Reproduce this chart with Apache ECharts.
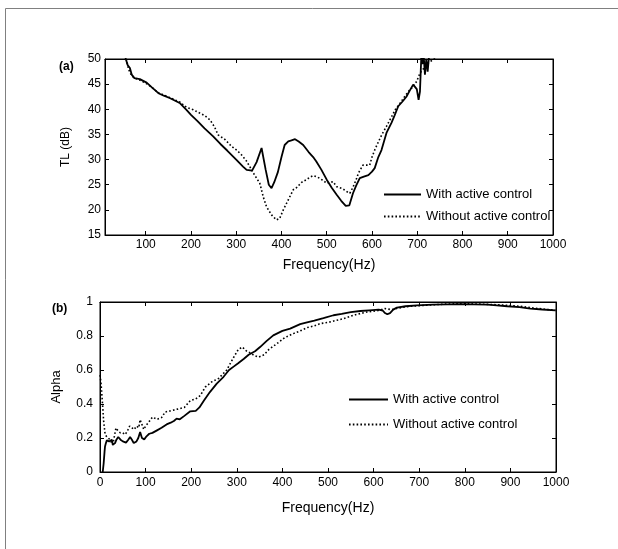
<!DOCTYPE html>
<html><head><meta charset="utf-8">
<script src="https://cdn.jsdelivr.net/npm/echarts@6/dist/echarts.min.js"></script>
<style>html,body{margin:0;padding:0;background:#fff}#c{width:618px;height:549px}</style>
</head><body><div id="c"></div>
<script>
// (a) Transmission loss
const tlWithFreq = [50,56,60,65,69,75,87,102,113,128,140,154,176,190,200,215,230,249,265,280,301,315,323,335,345,356,365,372,378,384,392,400,407,415,422,430,438,448,460,470,477,488,500,511,522,532,542,550,558,565,573,582,592,600,606,614,621,632,643,650,658,667,676,684,691,695,699,703,706,709,711,714,717,720,723,726,730];
const tlWith = [53,50,48.8,48.2,46.9,46.2,46.0,45.3,44.4,43.2,42.7,42.2,41.2,39.9,38.9,37.6,36.2,34.6,33.1,31.8,29.9,28.6,27.95,27.8,29.5,32.3,28.0,25.0,24.3,25.5,27.5,30.5,32.9,33.6,33.8,34.06,33.6,32.9,31.5,30.5,29.6,28.0,26.0,24.4,23.0,21.8,20.8,20.9,23.3,24.8,26.3,26.6,26.9,27.6,28.3,30.5,31.9,35.3,37.3,38.8,40.6,41.5,42.5,43.8,44.9,45.2,44.0,41.9,43.5,50.5,49,51,46.9,50,47.5,50.5,52];
const tlWithoutFreq = [50,57,62,68,75,85,100,113,128,154,176,190,205,218,231,242,252,260,275,290,302,312,322,330,340,352,360,367,378,389,396,404,415,426,433,445,455,463,470,480,489,500,514,522,535,545,551,558,565,570,580,588,595,600,606,614,622,632,642,652,662,672,682,691,699,706,715,724,732,740];
const tlWithout = [53,50,48,46.8,46.2,45.9,45.2,44.4,43.3,42.3,41.4,40.4,39.9,39.3,38.7,37.9,36.5,34.9,34.0,32.6,31.8,30.9,29.8,28.6,27.0,25.3,22.5,20.6,19.0,18.0,18.3,20.0,22.0,24.0,24.4,25.5,26.0,26.5,26.8,26.5,26.0,25.3,25.6,24.6,24.2,23.6,23.3,24.5,26.0,27.3,28.9,28.9,28.9,30.5,31.9,33.5,35.0,36.6,38.3,40.0,41.2,42.5,43.7,44.5,45.6,47.2,48.2,49.2,49.7,50.2];
// (b) Absorption coefficient
const alWithFreq = [6,8,10,11,13,15,18,20,23,26,28,31,33,36,40,45,50,57,62,66,70,74,77,80,84,88,92,97,102,108,115,125,135,146,155,162,168,175,185,198,210,218,228,241,256,271,283,293,303,315,326,340,351,365,380,400,417,439,454,470,490,512,530,550,571,590,611,620,625,630,636,643,651,670,695,730,761,790,820,850,870,893,920,944,970,999];
const alWith = [0,0.05,0.12,0.15,0.17,0.186,0.19,0.18,0.17,0.19,0.16,0.15,0.17,0.19,0.206,0.19,0.18,0.173,0.19,0.206,0.19,0.17,0.167,0.18,0.2,0.235,0.2,0.192,0.21,0.225,0.23,0.245,0.26,0.28,0.29,0.3,0.314,0.31,0.33,0.357,0.36,0.38,0.42,0.47,0.52,0.56,0.6,0.62,0.64,0.665,0.69,0.71,0.735,0.77,0.804,0.83,0.843,0.87,0.88,0.89,0.905,0.922,0.93,0.94,0.947,0.951,0.955,0.95,0.935,0.928,0.935,0.955,0.967,0.975,0.98,0.984,0.986,0.987,0.986,0.984,0.98,0.975,0.97,0.961,0.956,0.951];
const alWithoutFreq = [0,2,4,6,8,11,14,18,22,25,28,31,35,40,45,50,55,60,65,70,75,80,85,88,92,96,100,106,115,125,135,143,155,170,185,198,210,220,231,245,260,278,290,303,312,322,330,338,348,360,370,388,405,424,439,455,470,483,500,534,560,585,610,625,640,655,680,720,760,800,840,880,920,960,999];
const alWithout = [0.57,0.53,0.46,0.38,0.30,0.226,0.21,0.2,0.19,0.18,0.16,0.15,0.259,0.24,0.23,0.23,0.22,0.24,0.27,0.26,0.25,0.27,0.26,0.308,0.28,0.25,0.27,0.29,0.323,0.31,0.32,0.353,0.36,0.37,0.38,0.42,0.43,0.45,0.5,0.53,0.55,0.6,0.66,0.72,0.735,0.71,0.7,0.686,0.676,0.69,0.72,0.755,0.79,0.814,0.83,0.85,0.86,0.873,0.88,0.902,0.925,0.941,0.95,0.961,0.955,0.965,0.975,0.982,0.988,0.99,0.987,0.983,0.975,0.962,0.951];
const freqTicks = [100,200,300,400,500,600,700,800,900,1000];
const seriesNames = ['With active control','Without active control'];

const zip = (xs, ys) => xs.map((x, i) => [x, ys[i]]);
const FONT = 'Liberation Sans, Arial, sans-serif';
const axisLine = {show: true, onZero: false, lineStyle: {color: '#000', width: 1}};
const tick = {show: true, inside: true, length: 4, lineStyle: {color: '#000'}};
const lbl = {color: '#000', fontSize: 12, fontFamily: FONT, formatter: v => String(v)};

const chart = echarts.init(document.getElementById('c'), null, {renderer: 'canvas'});
const solid = {color: '#000', width: 1.8, type: 'solid'};
const dotted = {color: '#000', width: 1.6, type: [1.6, 2.2]};
function lineSeries(name, xi, yi, data, ls) {
  return {type: 'line', name, xAxisIndex: xi, yAxisIndex: yi, data, showSymbol: false, symbol: 'none',
    lineStyle: ls, itemStyle: {color: '#000'}, clip: true, animation: false, silent: true};
}
const legendCommon = {orient: 'vertical', padding: 0, itemHeight: 14, selectedMode: false,
  itemStyle: {opacity: 0, color: 'transparent', borderColor: 'transparent', borderWidth: 0},
  textStyle: {fontSize: 13, color: '#000', fontFamily: FONT}};
chart.setOption({
  animation: false,
  backgroundColor: '#fff',
  textStyle: {fontFamily: FONT},
  graphic: [{type: 'rect', shape: {x: 5.5, y: 8.5, width: 800, height: 800}, style: {fill: 'none', stroke: '#808080', lineWidth: 1}, silent: true}],
  title: [
    {text: '(a)', left: 54, top: 56, textStyle: {fontSize: 12, fontWeight: 'bold', color: '#000', fontFamily: FONT}},
    {text: '(b)', left: 47, top: 298, textStyle: {fontSize: 12, fontWeight: 'bold', color: '#000', fontFamily: FONT}}
  ],
  grid: [
    {left: 105, top: 59, width: 448, height: 176, show: true, borderColor: '#000', borderWidth: 1, backgroundColor: '#fff'},
    {left: 100, top: 302, width: 456, height: 170, show: true, borderColor: '#000', borderWidth: 1, backgroundColor: '#fff'}
  ],
  legend: [
    Object.assign({data: seriesNames, left: 383, top: 188, itemWidth: 37, itemGap: 9}, legendCommon),
    Object.assign({data: seriesNames, left: 348, top: 393, itemWidth: 39, itemGap: 12}, legendCommon)
  ],
  xAxis: [
    {type: 'value', gridIndex: 0, min: 10, max: 1000, position: 'bottom', axisLine, axisTick: Object.assign({}, tick, {customValues: freqTicks}),
      axisLabel: Object.assign({}, lbl, {margin: 4, customValues: freqTicks}), splitLine: {show: false},
      name: 'Frequency(Hz)', nameLocation: 'middle', nameGap: 23, nameTextStyle: {fontSize: 14, color: '#000', fontFamily: FONT}},
    {type: 'value', gridIndex: 0, min: 10, max: 1000, position: 'top', axisLine, axisTick: Object.assign({}, tick, {customValues: freqTicks}),
      axisLabel: {show: false}, splitLine: {show: false}},
    {type: 'value', gridIndex: 1, min: 0, max: 1000, interval: 100, position: 'bottom', axisLine, axisTick: tick,
      axisLabel: Object.assign({}, lbl, {margin: 5}), splitLine: {show: false},
      name: 'Frequency(Hz)', nameLocation: 'middle', nameGap: 29, nameTextStyle: {fontSize: 14, color: '#000', fontFamily: FONT}},
    {type: 'value', gridIndex: 1, min: 0, max: 1000, interval: 100, position: 'top', axisLine, axisTick: tick,
      axisLabel: {show: false}, splitLine: {show: false}}
  ],
  yAxis: [
    {type: 'value', gridIndex: 0, min: 15, max: 50, interval: 5, position: 'left', axisLine, axisTick: tick,
      axisLabel: Object.assign({}, lbl, {margin: 4}), splitLine: {show: false},
      name: 'TL (dB)', nameLocation: 'middle', nameGap: 33, nameTextStyle: {fontSize: 12, color: '#000', fontFamily: FONT}},
    {type: 'value', gridIndex: 0, min: 15, max: 50, interval: 5, position: 'right', axisLine, axisTick: tick,
      axisLabel: {show: false}, splitLine: {show: false}},
    {type: 'value', gridIndex: 1, min: 0, max: 1, interval: 0.2, position: 'left', axisLine, axisTick: tick,
      axisLabel: Object.assign({}, lbl, {margin: 7, formatter: v => String(Math.round(v * 10) / 10)}), splitLine: {show: false},
      name: 'Alpha', nameLocation: 'middle', nameGap: 37, nameTextStyle: {fontSize: 13, color: '#000', fontFamily: FONT}},
    {type: 'value', gridIndex: 1, min: 0, max: 1, interval: 0.2, position: 'right', axisLine, axisTick: tick,
      axisLabel: {show: false}, splitLine: {show: false}}
  ],
  series: [
    lineSeries(seriesNames[0], 0, 0, zip(tlWithFreq, tlWith), solid),
    lineSeries(seriesNames[1], 0, 0, zip(tlWithoutFreq, tlWithout), dotted),
    lineSeries(seriesNames[0], 2, 2, zip(alWithFreq, alWith), solid),
    lineSeries(seriesNames[1], 2, 2, zip(alWithoutFreq, alWithout), dotted)
  ]
});
</script></body></html>
